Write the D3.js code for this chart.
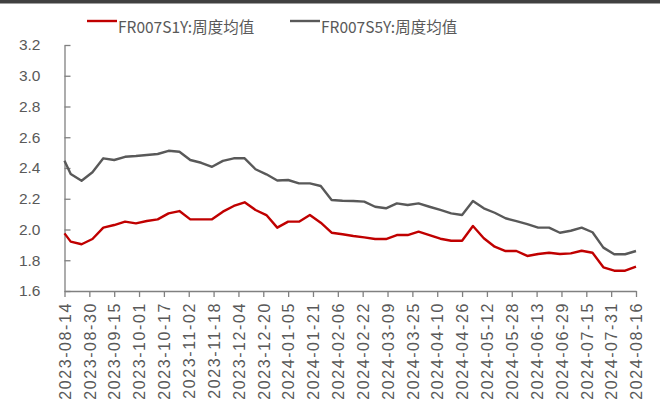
<!DOCTYPE html>
<html>
<head>
<meta charset="utf-8">
<script src="https://cdn.jsdelivr.net/npm/d3@7"></script>
<style>
  body { margin: 0; background: #fff; }
  svg { display: block; font-family: "Noto Sans CJK SC", "Noto Sans", sans-serif; }
</style>
</head>
<body>
<div id="chart"></div>
<script>
// series names for the legend
var seriesNames = ["FR007S1Y:周度均值", "FR007S5Y:周度均值"];

// weekly means, 2023-08-14 then every Friday up to 2024-08-16
var firstDate = "2023-08-14";
var s1y = [1.975, 1.921, 1.904, 1.938, 2.012, 2.029, 2.051, 2.040, 2.055, 2.066, 2.105, 2.120,
           2.066, 2.066, 2.066, 2.116, 2.153, 2.177, 2.127, 2.094, 2.012, 2.051,
           2.051, 2.094, 2.044, 1.979, 1.969, 1.958, 1.949, 1.938, 1.938, 1.964, 1.964,
           1.986, 1.964, 1.940, 1.927, 1.927, 2.023, 1.943, 1.888, 1.860, 1.860, 1.828,
           1.841, 1.849, 1.841, 1.845, 1.862, 1.849, 1.754, 1.732, 1.732, 1.758];
var s5y = [2.447, 2.361, 2.317, 2.372, 2.463, 2.452, 2.473, 2.478, 2.485, 2.491, 2.512, 2.506,
           2.452, 2.434, 2.408, 2.446, 2.463, 2.463, 2.392, 2.359, 2.319, 2.322,
           2.300, 2.300, 2.283, 2.192, 2.187, 2.185, 2.181, 2.148, 2.138, 2.170, 2.159,
           2.170, 2.148, 2.127, 2.105, 2.094, 2.185, 2.138, 2.109, 2.073, 2.055, 2.035,
           2.012, 2.012, 1.979, 1.992, 2.012, 1.982, 1.882, 1.839, 1.839, 1.860];

// x tick labels (every 16 days)
var xTicks = ["2023-08-14", "2023-08-30", "2023-09-15", "2023-10-01", "2023-10-17", "2023-11-02",
              "2023-11-18", "2023-12-04", "2023-12-20", "2024-01-05", "2024-01-21", "2024-02-06",
              "2024-02-22", "2024-03-09", "2024-03-25", "2024-04-10", "2024-04-26", "2024-05-12",
              "2024-05-28", "2024-06-13", "2024-06-29", "2024-07-15", "2024-07-31", "2024-08-16"];
var yTicks = [1.6, 1.8, 2.0, 2.2, 2.4, 2.6, 2.8, 3.0, 3.2];

var colors = ["#c00000", "#595959"];
var axisColor = "#808080";

var width = 660, height = 407;
var margin = {top: 45, right: 24, bottom: 116, left: 64.5};
var w = width - margin.left - margin.right,
    h = height - margin.top - margin.bottom;

var parse = d3.timeParse("%Y-%m-%d");

// data dates: first day, then the Fridays
var dates = [parse(firstDate)].concat(d3.timeFriday.range(parse("2023-08-18"), parse("2024-08-17")));

var data = dates.map(function(d, i) {
    return {date: d, s1y: s1y[i], s5y: s5y[i]};
});

var xScale = d3.scaleTime()
    .domain([parse(xTicks[0]), parse(xTicks[xTicks.length - 1])])
    .range([0, w]);

var yScale = d3.scaleLinear()
    .domain([1.6, 3.2])
    .range([h, 0]);

var svg = d3.select("#chart").append("svg")
    .attr("width", width)
    .attr("height", height);

// dark band along the top
svg.append("rect")
    .attr("x", 0).attr("y", 0)
    .attr("width", width).attr("height", 3.5)
    .attr("fill", "#404040");

var g = svg.append("g")
    .attr("transform", "translate(" + margin.left + "," + margin.top + ")");

//Define axes
var xAxis = d3.axisBottom(xScale)
    .tickValues(xTicks.map(parse))
    .tickFormat(d3.timeFormat("%Y-%m-%d"))
    .tickSizeInner(6)
    .tickSizeOuter(0);

var yAxis = d3.axisRight(yScale)
    .tickValues(yTicks)
    .tickFormat(d3.format(".1f"))
    .tickSizeInner(6)
    .tickSizeOuter(0);

var yG = g.append("g")
    .attr("class", "y axis")
    .call(yAxis);
yG.select(".domain").attr("stroke", axisColor).attr("stroke-width", 1.3);
yG.selectAll(".tick line").attr("stroke", axisColor).attr("stroke-width", 1.3);
yG.selectAll(".tick text")
    .attr("x", -24)
    .attr("text-anchor", "end")
    .attr("fill", "#595959")
    .style("font-size", "15.5px");

var xG = g.append("g")
    .attr("class", "x axis")
    .attr("transform", "translate(0," + h + ")")
    .call(xAxis);
xG.select(".domain").attr("stroke", axisColor).attr("stroke-width", 1.3);
xG.selectAll(".tick line").attr("stroke", axisColor).attr("stroke-width", 1.3);
xG.selectAll(".tick text")
    .attr("transform", "rotate(-90)")
    .attr("x", -11)
    .attr("y", 0)
    .attr("dy", "0.36em")
    .attr("text-anchor", "end")
    .attr("fill", "#595959")
    .style("font-size", "16px")
    .style("letter-spacing", "1.6px");

// lines
var keys = ["s1y", "s5y"];
keys.forEach(function(k, i) {
    var line = d3.line()
        .x(function(d) { return xScale(d.date); })
        .y(function(d) { return yScale(d[k]); });
    g.append("path")
        .datum(data)
        .attr("fill", "none")
        .attr("stroke", colors[i])
        .attr("stroke-width", 2.4)
        .attr("stroke-linejoin", "round")
        .attr("d", line);
});

// legend
var legendX = [87, 290];
var legend = svg.selectAll(".legend")
    .data(seriesNames)
    .enter().append("g")
    .attr("class", "legend")
    .attr("transform", function(d, i) { return "translate(" + legendX[i] + ",0)"; });

legend.append("line")
    .attr("x1", 0).attr("x2", 30)
    .attr("y1", 21).attr("y2", 21)
    .attr("stroke", function(d, i) { return colors[i]; })
    .attr("stroke-width", 2.4);

legend.append("text")
    .attr("x", 31)
    .attr("y", 33)
    .attr("fill", "#595959")
    .style("font-size", "15.5px")
    .text(function(d) { return d; });
</script>
</body>
</html>
